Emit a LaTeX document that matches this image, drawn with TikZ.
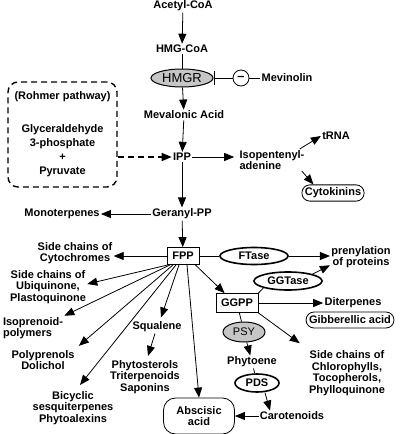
\documentclass[tikz,border=0pt]{standalone}
\usepackage{fontspec}
\setmainfont{Liberation Sans}
\usetikzlibrary{arrows.meta,shapes.geometric}

\begin{document}
\begin{tikzpicture}[x=1pt,y=-1pt,line width=0.8pt,
  every node/.style={font=\bfseries\fontsize{11}{11.5}\selectfont,align=center,inner sep=1pt},
  enz node/.style={ellipse,draw,line width=1.6pt,inner sep=0pt,minimum height=17pt},
  gray enz/.style={enz node,fill=gray!45,line width=1pt},
  box node/.style={rectangle,draw,inner sep=3pt},
  end node/.style={rectangle,draw,rounded corners=8pt,minimum height=16pt,inner sep=3pt},
  arr/.style={-{Triangle[length=10pt,width=8pt]}}]
  \useasboundingbox (0,0) rectangle (404,434);
  % mevalonate route
  \node (acoa) at (183,6) {Acetyl-CoA};
  \node (hcoa) at (182,49) {HMG-CoA};
  \node[gray enz,minimum width=62pt,minimum height=18pt,font=\fontsize{13}{13}\selectfont] (hmgr) at (182,78) {HMGR};
  \node[circle,draw,minimum size=16pt,inner sep=0pt,font=\bfseries\fontsize{13}{13}\selectfont] (minus) at (241,78) {--};
  \node (mevin) at (287,78) {Mevinolin};
  \node (mval) at (184,115) {Mevalonic Acid};
  \node (ipp) at (182,157) {IPP};
  % Rohmer route
  \node[draw,dash pattern=on 6pt off 4pt,line width=1.4pt,rounded corners=10pt,
    minimum width=109pt,minimum height=105pt,font=\bfseries\fontsize{11}{14}\selectfont]
    (rohmer) at (62.5,134.5) {(Rohmer pathway)\\[19pt]Glyceraldehyde\\3-phosphate\\+\\Pyruvate};
  \node[align=left,font=\bfseries\fontsize{11}{9}\selectfont] (isoad) at (272,160) {Isopentenyl-\\adenine};
  \node (trna) at (336,136) {tRNA};
  \node[end node,minimum width=60pt] (cytok) at (333,193) {Cytokinins};
  \node (gpp) at (182,214) {Geranyl-PP};
  \node (mono) at (62,214) {Monoterpenes};
  % FPP and its products
  \node[box node,minimum width=32pt,minimum height=17pt] (fpp) at (183,256) {FPP};
  \node (cytc) at (75,253) {Side chains of\\Cytochromes};
  \node[enz node,minimum width=68pt] (ftase) at (254,256) {FTase};
  \node (prot) at (361,257) {prenylation\\of proteins};
  \node[enz node,minimum width=68pt,minimum height=18pt] (ggtase) at (288,281) {GGTase};
  \node[box node,minimum width=42pt,minimum height=19pt] (ggpp) at (237,303) {GGPP};
  \node (diterp) at (353,303) {Diterpenes};
  \node[end node,minimum width=84pt] (gibb) at (350,320) {Gibberellic acid};
  \node[gray enz,minimum width=42pt,minimum height=20pt,font=\fontsize{11}{11}\selectfont] (psy) at (244,332) {PSY};
  \node (phyt) at (252,362) {Phytoene};
  \node[enz node,minimum width=44pt,minimum height=18pt] (pds) at (257,383) {PDS};
  \node (carot) at (292,416) {Carotenoids};
  \node[end node,minimum width=71pt,minimum height=36pt,rounded corners=12pt] (absc) at (199,416) {Abscisic\\acid};
  \node (chloro) at (347,373) {Side chains of\\Chlorophylls,\\Tocopherols,\\Phylloquinone};
  \node (squal) at (157,327) {Squalene};
  \node (sterol) at (145,377) {Phytosterols\\Triterpenoids\\Saponins};
  \node (ubi) at (48,287) {Side chains of\\Ubiquinone,\\Plastoquinone};
  \node[align=left] (ipoly) at (33,328) {Isoprenoid-\\polymers};
  \node (polyp) at (43,360) {Polyprenols\\Dolichol};
  \node (bicyc) at (73,408) {Bicyclic\\sesquiterpenes\\Phytoalexins};

  \draw (hcoa) -- (hmgr);
  \draw[{Bar[width=14pt]}-] (hmgr.east) -- (minus);
  \draw (minus) -- (mevin);
  \draw (fpp.east) -- (ftase.west);
  \draw (ggtase.south west) -- (ggpp.north east);
  \draw (ggpp) -- (psy);
  \draw (phyt) -- (pds);
  \path[arr]
   (acoa) edge (hcoa)
   (hmgr) edge (mval)
   (mval) edge (ipp)
   (rohmer.east |- ipp) edge[dash pattern=on 6pt off 4pt,line width=1.4pt] (ipp)
   (ipp) edge ([xshift=-4pt]isoad.west |- ipp)
   ([xshift=-6pt]isoad.north east) edge (trna.west)
   ([xshift=-4pt]isoad.south east) edge ([xshift=12pt]cytok.north west)
   (ipp) edge (gpp)
   (gpp) edge (mono)
   (gpp) edge (fpp)
   (fpp.west) edge (cytc.east |- fpp)
   (ftase.east) edge (prot.west |- ftase)
   (ggtase.north east) edge ([yshift=4pt]prot.south west)
   ([xshift=-4pt]fpp.south east) edge ([xshift=9pt]ggpp.north west)
   (ggpp.east) edge (diterp.west)
   (psy) edge (phyt)
   ([xshift=8pt]pds.south) edge ([xshift=-22pt]carot.north)
   (carot.west) edge (absc.east)
   (ggpp.south east) edge ([xshift=-8pt,yshift=6pt]chloro.north west)
   ([xshift=-15pt]fpp.south) edge ([yshift=3pt]ubi.east)
   ([xshift=-13pt]fpp.south) edge (ipoly.north east)
   ([xshift=-10pt]fpp.south) edge ([xshift=3pt,yshift=3pt]polyp.north east)
   ([xshift=-7pt]fpp.south) edge ([xshift=7pt,yshift=5pt]bicyc.north)
   ([xshift=-4pt]fpp.south) edge ([xshift=4pt,yshift=3pt]squal.north)
   ([xshift=4pt]fpp.south) edge (absc.north)
   ([xshift=-2pt]squal.south) edge ([xshift=3pt,yshift=3pt]sterol.north);
\end{tikzpicture}
\end{document}
